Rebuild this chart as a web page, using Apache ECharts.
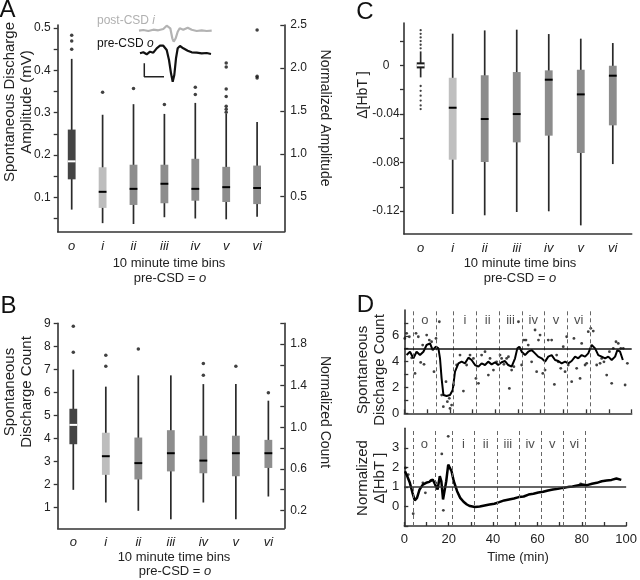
<!DOCTYPE html>
<html><head><meta charset="utf-8">
<script src="https://cdn.jsdelivr.net/npm/echarts@6/dist/echarts.min.js"></script>
<style>html,body{margin:0;padding:0;background:#fff}#c{width:640px;height:580px}</style>
</head><body><div id="c"></div>
<script>
// ---------------- data ----------------
const binNames = ['o','i','ii','iii','iv','v','vi'];
const binPos = [0,1,2,3,4,5,6];

// Panel A: spontaneous discharge amplitude (mV): [low whisker, q1, median, q3, high whisker]
const ampStats = [
  [0.071, 0.1425, 0.185, 0.260, 0.427],
  [0.039, 0.075, 0.113, 0.171, 0.295],
  [0.037, 0.082, 0.120, 0.177, 0.320],
  [0.053, 0.086, 0.132, 0.177, 0.297],
  [0.050, 0.092, 0.120, 0.191, 0.323],
  [0.048, 0.089, 0.124, 0.172, 0.297],
  [0.054, 0.084, 0.122, 0.175, 0.278]
];
const ampOutliers = [[0.483,0.469,0.450],[0.348],[0.357],[0.319],[0.360,0.343],[0.417,0.408,0.356,0.338,0.315,0.308,0.301],[0.495,0.386,0.382]];
const ampTicks = [0.05,0.1,0.15,0.2,0.25,0.3,0.35,0.4,0.45,0.5];
const ampTickLabels = [0.1,0.2,0.3,0.4,0.5];
const ampNormTicks = [0.5,1.0,1.5,2.0,2.5];

// Inset waveforms (sample index, amplitude units)
const postCsdTrace = [[0,-15.7],[4.3,-15],[9.3,-16],[14.3,-14.7],[19.3,-15.3],[24.3,-14],[27.7,-10.7],[29.3,-9.3],[31.3,-13.3],[33.3,-23.3],[34.7,-26.7],[36.7,-23.3],[38.7,-16.7],[40.7,-13.3],[44.3,-14.7],[48.7,-12.7],[52.7,-14.7],[57.7,-16],[62.7,-15.3],[67.7,-16],[72.7,-15.7]];
const preCsdTrace = [[1,-38.3],[4.3,-37.3],[7.7,-39.3],[11,-36.7],[14.3,-37.7],[17.7,-33.3],[21,-30.7],[24.3,-30.7],[27.7,-35],[30,-45],[32,-58.3],[33.7,-66.7],[35.3,-60],[37,-43.3],[38.7,-33.3],[41,-31],[44.3,-33.3],[48.7,-35.7],[52.7,-37.3],[57.7,-37.7],[62.7,-38.3],[67.7,-38],[72,-39]];
const scaleBar = [[5.3,-48.3],[5.3,-61.7],[25,-61.7]];

// Panel B: spontaneous discharge count
const countStats = [
  [1.77,3.75,4.59,5.29,6.99],
  [1.22,2.42,3.23,4.25,6.25],
  [0.86,2.22,2.93,4.04,6.74],
  [0.49,2.57,3.36,4.36,6.74],
  [1.22,2.49,3.04,4.12,6.36],
  [0.49,2.36,3.36,4.12,6.36],
  [1.48,2.72,3.36,3.94,5.64]
];
const countOutliers = [[8.87,7.74],[7.61,7.13],[7.88],[],[7.25,6.74],[7.13],[5.99]];
const countTicks = [1,2,3,4,5,6,7,8,9];
const countNormTicks = [0.2,0.4,0.6,0.8,1.0,1.2,1.4,1.6,1.8,2.0];
const countNormLabels = [0.2,0.6,1.0,1.4,1.8];

// Panel C: delta HbT
const hbtStats = [
  [-0.0099,-0.0025,0,0.0025,0.0115],
  [-0.1224,-0.0777,-0.0349,-0.0102,0.0261],
  [-0.1235,-0.0796,-0.0442,-0.0082,0.0288],
  [-0.1208,-0.0634,-0.0401,-0.0055,0.0294],
  [-0.1202,-0.0579,-0.0118,-0.0041,0.0258],
  [-0.1318,-0.0722,-0.0239,-0.0036,0.0220],
  [-0.0813,-0.0494,-0.0085,-0.0003,0.0184]
];
const hbtOutliers = [[0.029,0.026,0.023,0.020,0.017,0.014,-0.017,-0.021,-0.025,-0.029,-0.033,-0.036],[],[],[],[],[],[]];
const hbtTicks = [-0.12,-0.10,-0.08,-0.06,-0.04,-0.02,0,0.02];
const hbtTickLabels = [-0.12,-0.08,-0.04,0];

// Panel D: time course (min)
const binEdges = [4,14,21.7,31.7,41.7,51.7,61.7,71.7,81.7];
const binLabelTimes = [9,26.7,36.7,46.7,56.7,66.7,76.7];
const timeTicks = [0,10,20,30,40,50,60,70,80,90,100];
const timeLabels = [0,20,40,60,80,100];
const countDTicks = [0,1,2,3,4,5,6,7];
const countDLabels = [0,2,4,6];
const hbtDTicks = [-1,0,1,2,3];
const hbtDLabels = [0,1,2,3];
const countDots = [[0.2,5.8],[1.04,6.19],[2.21,5.93],[3.24,4.30],[4.71,3.09],[5.15,6.19],[6.17,5.93],[7.2,3.94],[8.08,5.28],[8.67,3.79],[9.84,6.06],[11.0,5.67],[12.0,5.54],[13.06,3.22],[13.94,5.8],[15.41,7.09],[16.44,1.41],[17.17,0.51],[18.34,2.45],[18.93,0.9],[19.8,1.16],[20.1,0.38],[20.8,0.64],[21.6,2.19],[23.0,3.74],[24.5,4.51],[26.0,1.72],[27.4,3.74],[28.9,4.51],[30.4,4.25],[31.5,2.7],[32.6,2.32],[34.0,4.51],[35.5,4.77],[36.96,2.96],[37.7,4.25],[39.2,3.35],[40.6,3.99],[42.1,4.51],[42.8,4.25],[43.8,3.79],[45.0,4.25],[45.8,4.38],[46.2,1.93],[47.2,3.35],[48.2,3.61],[50.2,7.09],[51.6,3.74],[52.6,5.67],[53.5,5.67],[54.5,5.28],[56.0,3.99],[57.5,6.45],[58.2,3.22],[59.0,5.67],[59.7,6.06],[60.9,3.09],[61.9,3.35],[63.3,5.67],[64.8,5.67],[66.0,2.24],[67.0,4.51],[67.7,3.99],[68.8,3.48],[69.9,5.16],[70.7,3.22],[71.4,5.93],[72.1,3.74],[73.6,2.45],[74.6,5.8],[75.8,3.48],[77.3,2.7],[78.0,5.41],[79.5,3.74],[80.2,3.87],[80.9,6.32],[82.0,6.58],[83.1,6.37],[84.6,3.74],[86.1,3.87],[86.8,4.25],[87.8,3.99],[89.0,2.96],[90.2,4.77],[91.2,2.32],[91.9,5.03],[93.1,5.54],[94.1,5.41],[95.2,5.03],[96.3,5.03],[97.1,2.19],[98.1,3.87]];
const countSmooth = [[1.0,4.51],[2.5,4.77],[4.0,4.26],[5.4,4.77],[6.9,4.51],[8.4,4.77],[9.8,5.29],[11.3,5.42],[12.5,4.9],[13.9,5.16],[15.0,5.03],[15.7,4.26],[16.4,2.71],[17.2,1.42],[18.6,1.34],[20.1,1.42],[21.3,1.81],[22.3,3.23],[23.8,3.87],[25.2,4.0],[26.7,3.87],[28.2,4.31],[29.6,4.13],[31.1,3.74],[32.6,3.61],[34.0,3.87],[35.5,3.74],[36.9,4.0],[38.4,3.79],[39.9,3.95],[41.3,3.74],[42.8,3.95],[44.3,4.05],[45.7,3.74],[47.2,3.61],[48.7,4.26],[49.7,5.03],[50.6,5.16],[51.6,4.77],[53.1,4.51],[54.5,4.77],[56.0,4.9],[57.5,4.64],[58.9,4.39],[60.4,4.26],[61.9,4.0],[63.3,4.39],[64.8,4.51],[66.3,4.13],[67.7,4.05],[69.2,3.87],[70.7,4.0],[72.1,3.87],[73.6,4.05],[75.1,4.39],[76.5,4.26],[78.0,4.51],[79.5,4.39],[80.9,4.64],[82.4,5.29],[83.9,5.03],[85.3,4.51],[86.8,4.39],[88.3,4.26],[89.7,4.39],[91.2,4.13],[92.7,4.39],[93.7,4.9],[94.9,4.77],[96.1,4.13]];
const hbtSmooth = [[0.31,1.8],[1.33,1.55],[2.5,1.21],[3.68,0.7],[4.71,0.31],[5.73,0.44],[6.9,0.87],[8.37,1.12],[9.84,1.21],[11.3,1.26],[12.8,1.38],[13.9,1.12],[15.0,0.87],[16.0,1.55],[16.7,1.29],[17.46,0.36],[18.2,0.27],[18.9,1.29],[19.8,2.14],[20.4,2.14],[21.3,1.8],[22.3,1.29],[23.8,0.78],[25.2,0.44],[26.7,0.24],[28.2,0.1],[29.6,0.02],[31.8,-0.03],[34.0,0],[36.2,0.05],[38.4,0.1],[40.6,0.14],[42.8,0.22],[45.0,0.31],[47.2,0.36],[49.4,0.41],[51.6,0.48],[53.8,0.51],[56.0,0.61],[58.2,0.65],[60.4,0.71],[62.6,0.75],[64.8,0.82],[67.0,0.87],[69.2,0.9],[71.4,0.95],[73.6,0.99],[75.8,1.02],[78.0,1.07],[80.2,1.12],[82.4,1.09],[84.6,1.16],[86.8,1.21],[89.0,1.29],[91.2,1.33],[93.4,1.36],[95.6,1.43],[97.8,1.36]];
const hbtDots = [[0.5,1.97],[1.8,1.63],[4.0,-0.37],[8.37,1.21],[9.5,0.7],[12.0,1.33],[14.2,1.21],[16.9,2.69],[17.6,-0.2],[19.8,3.59],[79.5,1.16]];

// ---------------- helpers ----------------
const FONT = '"Liberation Sans", Arial, Helvetica, sans-serif';
const AX = '#333';
const TXT = '#222';

function boxData(stats){ return stats.map((s,i)=>[binPos[i]].concat(s)); }
function outlierData(outs){ const r=[]; outs.forEach((a,i)=>a.forEach(v=>r.push([binPos[i],v]))); return r; }

function boxRenderer(fills, medColors, boxW){
  return function(params, api){
    const x = api.value(0);
    const pLow = api.coord([x, api.value(1)]);
    const pQ1 = api.coord([x, api.value(2)]);
    const pMed = api.coord([x, api.value(3)]);
    const pQ3 = api.coord([x, api.value(4)]);
    const pHigh = api.coord([x, api.value(5)]);
    const i = params.dataIndex;
    return {type:'group', children:[
      {type:'line', shape:{x1:pLow[0],y1:pLow[1],x2:pHigh[0],y2:pHigh[1]}, style:{stroke:'#2a2a2a', lineWidth:1.7}},
      {type:'rect', shape:{x:pQ3[0]-boxW/2, y:pQ3[1], width:boxW, height:pQ1[1]-pQ3[1]}, style:{fill:fills[i]}},
      {type:'line', shape:{x1:pMed[0]-boxW/2,y1:pMed[1],x2:pMed[0]+boxW/2,y2:pMed[1]}, style:{stroke:medColors[i], lineWidth:2}}
    ]};
  };
}

function baseAxis(grid, min, max, extra){
  return Object.assign({
    type:'value', gridIndex:grid, min:min, max:max,
    splitLine:{show:false},
    axisLine:{show:true, onZero:false, lineStyle:{color:AX, width:1.6}},
    axisTick:{show:false},
    axisLabel:{show:false}
  }, extra||{});
}
function lbl(extra){ return Object.assign({show:true, color:TXT, fontSize:12, fontFamily:FONT}, extra); }
function tick(values, inside, extra){ return Object.assign({show:true, customValues:values, inside:!!inside, length:4, lineStyle:{color:AX, width:1.3}}, extra||{}); }

function binXAxis(grid, min, max, margin){
  return baseAxis(grid, min, max, {
    axisLabel: lbl({customValues:binPos, formatter:v=>binNames[Math.round(v)], fontStyle:'italic', fontSize:13, margin:margin})
  });
}

function text(x, y, t, o){
  o = o||{};
  return {type:'text', x:x, y:y, rotation:o.rot||0, silent:true, z:100,
    style:{text:t, fontSize:o.size||13, fontFamily:FONT, fill:o.fill||TXT,
      align:'center', verticalAlign:'middle', textAlign:'center', textVerticalAlign:'middle',
      lineHeight:o.lh||undefined,
      rich:{it:{fontStyle:'italic', fontSize:o.size||13, fontFamily:FONT, fill:o.fill||TXT}}}};
}
function leftText(x, y, t, fill){
  return {type:'text', x:x, y:y, silent:true, z:100,
    style:{text:t, fontSize:12, fontFamily:FONT, fill:fill, align:'left', verticalAlign:'middle', textAlign:'left', textVerticalAlign:'middle',
      rich:{it:{fontStyle:'italic', fontSize:12, fontFamily:FONT, fill:fill}}}};
}

const fillsAB = ['#444444','#bdbdbd','#8d8d8d','#8d8d8d','#8d8d8d','#8d8d8d','#8d8d8d'];
const fillsC = ['#1a1a1a','#bfbfbf','#8c8c8c','#8c8c8c','#8c8c8c','#8c8c8c','#8c8c8c'];
const medCols = ['#ffffff','#000','#000','#000','#000','#000','#000'];

const edgeLines = binEdges.map(t=>({xAxis:t, lineStyle:{type:[4,3], color:'#666', width:1}}));

const option = {
  animation:false,
  backgroundColor:'#fff',
  grid:[
    {left:57.7, top:25, width:226.6, height:206.7},     // A
    {left:139, top:15, width:73, height:70},            // inset
    {left:57.7, top:323.3, width:226.6, height:205},    // B
    {left:404, top:23, width:227.7, height:211},        // C
    {left:404.3, top:310, width:227.4, height:103.3},   // D top
    {left:404.3, top:428.3, width:227.4, height:97.7}   // D bottom
  ],
  xAxis:[
    binXAxis(0, -0.453, 6.88, 8),
    {type:'value', gridIndex:1, min:0, max:73, show:false},
    binXAxis(2, -0.48, 6.49, 8),
    binXAxis(3, -0.52, 6.59, 8),
    baseAxis(4, 0, 100, {axisTick:tick(timeTicks, true)}),
    baseAxis(5, 0, 100, {axisTick:tick(timeTicks, true), axisLabel:lbl({customValues:timeLabels, fontSize:13, margin:7})})
  ],
  yAxis:[
    baseAxis(0, 0.0188, 0.507, {axisTick:tick(ampTicks,false), axisLabel:lbl({customValues:ampTickLabels, formatter:v=>v.toFixed(1), margin:7})}),
    baseAxis(0, 0.092, 2.5, {position:'right', axisTick:tick(ampNormTicks,true), axisLabel:lbl({customValues:ampNormTicks, formatter:v=>v.toFixed(1), margin:6})}),
    {type:'value', gridIndex:1, min:-70, max:0, show:false},
    baseAxis(2, 0.10, 9.0, {axisTick:tick(countTicks,false), axisLabel:lbl({customValues:countTicks, margin:7})}),
    baseAxis(2, 0.028, 2.0, {position:'right', axisTick:tick(countNormTicks,true), axisLabel:lbl({customValues:countNormLabels, formatter:v=>v.toFixed(1), margin:6})}),
    baseAxis(3, -0.1389, 0.0349, {axisTick:tick(hbtTicks,false), axisLabel:lbl({customValues:hbtTickLabels, formatter:v=>v===0?'0':v.toFixed(2), align:'center', margin:18})}),
    baseAxis(4, 0, 8, {axisTick:tick(countDTicks,true), axisLabel:lbl({customValues:countDLabels, fontSize:13, margin:5})}),
    baseAxis(5, -1, 4, {axisTick:tick(hbtDTicks,true), axisLabel:lbl({customValues:hbtDLabels, fontSize:13, margin:5})})
  ],
  series:[
    // A
    {type:'custom', xAxisIndex:0, yAxisIndex:0, data:boxData(ampStats), renderItem:boxRenderer(fillsAB, medCols, 7.8), encode:{x:0,y:[1,2,3,4,5]}, clip:false, silent:true},
    {type:'scatter', xAxisIndex:0, yAxisIndex:0, data:outlierData(ampOutliers), symbolSize:3.5, itemStyle:{color:'#111'}, silent:true},
    // inset
    {type:'line', xAxisIndex:1, yAxisIndex:2, data:postCsdTrace, showSymbol:false, lineStyle:{color:'#b3b3b3', width:2.2}, silent:true},
    {type:'line', xAxisIndex:1, yAxisIndex:2, data:preCsdTrace, showSymbol:false, lineStyle:{color:'#111', width:2.2}, silent:true},
    {type:'line', xAxisIndex:1, yAxisIndex:2, data:scaleBar, showSymbol:false, lineStyle:{color:'#222', width:1.5}, silent:true},
    // B
    {type:'custom', xAxisIndex:2, yAxisIndex:3, data:boxData(countStats), renderItem:boxRenderer(fillsAB, medCols, 7.8), encode:{x:0,y:[1,2,3,4,5]}, clip:false, silent:true},
    {type:'scatter', xAxisIndex:2, yAxisIndex:3, data:outlierData(countOutliers), symbolSize:3.5, itemStyle:{color:'#111'}, silent:true},
    // C
    {type:'custom', xAxisIndex:3, yAxisIndex:5, data:boxData(hbtStats), renderItem:boxRenderer(fillsC, medCols, 7.8), encode:{x:0,y:[1,2,3,4,5]}, clip:false, silent:true},
    {type:'scatter', xAxisIndex:3, yAxisIndex:5, data:outlierData(hbtOutliers), symbolSize:2.3, itemStyle:{color:'#111'}, silent:true},
    // D top
    {type:'scatter', xAxisIndex:4, yAxisIndex:6, data:countDots, symbolSize:2.8, itemStyle:{color:'#111'}, silent:true},
    {type:'line', xAxisIndex:4, yAxisIndex:6, data:countSmooth, showSymbol:false, lineStyle:{color:'#000', width:2}, silent:true,
      markLine:{silent:true, symbol:['none','none'], label:{show:false}, animation:false,
        data:edgeLines.concat([{yAxis:5, lineStyle:{type:'solid', color:'#111', width:1.5}}])}},
    {type:'scatter', xAxisIndex:4, yAxisIndex:6, data:binLabelTimes.map(t=>[t,7.2]), symbolSize:0, silent:true,
      label:{show:true, position:'inside', formatter:p=>binNames[p.dataIndex], color:TXT, fontSize:13, fontFamily:FONT}},
    // D bottom
    {type:'scatter', xAxisIndex:5, yAxisIndex:7, data:hbtDots, symbolSize:2.8, itemStyle:{color:'#111'}, silent:true},
    {type:'line', xAxisIndex:5, yAxisIndex:7, data:hbtSmooth, showSymbol:false, lineStyle:{color:'#000', width:2.5}, silent:true,
      markLine:{silent:true, symbol:['none','none'], label:{show:false}, animation:false,
        data:edgeLines.concat([{yAxis:1, lineStyle:{type:'solid', color:'#333', width:1.5}}])}},
    {type:'scatter', xAxisIndex:5, yAxisIndex:7, data:binLabelTimes.map(t=>[t,3.2]), symbolSize:0, silent:true,
      label:{show:true, position:'inside', formatter:p=>binNames[p.dataIndex], color:TXT, fontSize:13, fontFamily:FONT}}
  ],
  graphic:[
    text(7.5, 10, 'A', {size:24, fill:'#111'}),
    text(8.5, 306, 'B', {size:24, fill:'#111'}),
    text(365, 12, 'C', {size:24, fill:'#111'}),
    text(365.5, 305, 'D', {size:24, fill:'#111'}),
    // inset labels
    leftText(97, 20.5, 'post-CSD {it|i}', '#b0b0b0'),
    leftText(97, 43.5, 'pre-CSD {it|o}', '#111'),
    // axis titles
    text(18.5, 102, 'Spontaneous Discharge\nAmplitude (mV)', {size:15, rot:Math.PI/2, lh:17}),
    text(325, 118, 'Normalized Amplitude', {size:14, rot:-Math.PI/2}),
    text(169, 263, '10 minute time bins'),
    text(170, 278, 'pre-CSD = {it|o}'),
    text(18.5, 392, 'Spontaneous\nDischarge Count', {size:15, rot:Math.PI/2, lh:17}),
    text(325, 412, 'Normalized Count', {size:14, rot:-Math.PI/2}),
    text(174, 557, '10 minute time bins'),
    text(175, 571, 'pre-CSD = {it|o}'),
    text(363, 95, 'Δ[HbT ]', {size:14, rot:Math.PI/2}),
    text(520, 263, '10 minute time bins'),
    text(520, 278, 'pre-CSD = {it|o}'),
    text(371.5, 370, 'Spontaneous\nDischarge Count', {size:15, rot:Math.PI/2, lh:17}),
    text(371.5, 478, 'Normalized\nΔ[HbT ]', {size:15, rot:Math.PI/2, lh:17}),
    text(518, 557, 'Time (min)')
  ]
};
const chart = echarts.init(document.getElementById('c'), null, {renderer:'canvas'});
chart.setOption(option);
</script></body></html>
